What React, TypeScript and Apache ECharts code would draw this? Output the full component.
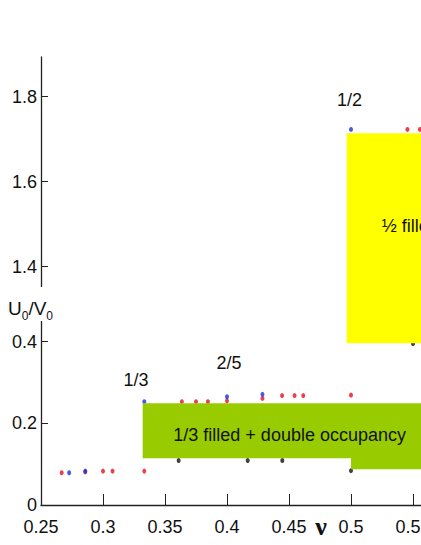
import React, { useEffect, useRef } from 'react';
import * as echarts from 'echarts';

const xTickValues = [0.25, 0.3, 0.35, 0.4, 0.45, 0.5, 0.55, 0.6];
const upperTickValues = [1.4, 1.6, 1.8];
const lowerTickValues = [0, 0.2, 0.4];

const redLower = [
  [0.2667, 0.079], [0.2857, 0.081], [0.3, 0.083], [0.3077, 0.083], [0.3333, 0.083],
  [0.3636, 0.253], [0.375, 0.253], [0.3846, 0.253], [0.4, 0.255], [0.4286, 0.261],
  [0.4444, 0.268], [0.4545, 0.268], [0.4615, 0.268], [0.5, 0.269],
];
const redUpper = [[0.5455, 1.723], [0.5556, 1.723]];
const blueLower = [[0.2727, 0.079], [0.2857, 0.083], [0.3333, 0.253], [0.4, 0.265], [0.4286, 0.271]];
const blueUpper = [[0.5, 1.723]];
const blackLower = [[0.361, 0.109], [0.4167, 0.109], [0.4446, 0.109], [0.5, 0.084], [0.55, 0.395]];

const fractionLabels = [
  { text: '1/2', grid: 0, x: 0.4988, y: 1.792 },
  { text: '1/3', grid: 1, x: 0.3266, y: 0.306 },
  { text: '2/5', grid: 1, x: 0.4016, y: 0.348 },
];

const SANS = '"Liberation Sans", Arial, sans-serif';
const RED = '#e5121f';
const BLUE = '#1c2ee0';
const BLACK = '#111111';

export default function App() {
  const ref = useRef<HTMLDivElement>(null);
  useEffect(() => {
    if (!ref.current) return;
    const chart = echarts.init(ref.current, undefined, { renderer: 'svg' });
    const axisLine = { show: true, lineStyle: { color: '#222', width: 1.3 } };
    const yLabel = { color: '#111', fontFamily: SANS, fontSize: 18, margin: 4 };
    const scatter = (data: number[][], color: string, g: number) => ({
      type: 'scatter',
      xAxisIndex: g,
      yAxisIndex: g,
      data,
      symbol: 'circle',
      symbolSize: [4, 5],
      itemStyle: { color },
      z: 3,
    });
    chart.setOption({
      animation: false,
      backgroundColor: '#ffffff',
      grid: [
        { left: 41, top: 57, width: 434, height: 243 },
        { left: 41, top: 300, width: 434, height: 205 },
      ],
      xAxis: [
        { gridIndex: 0, type: 'value', min: 0.25, max: 0.6, show: false },
        {
          gridIndex: 1, type: 'value', min: 0.25, max: 0.6, interval: 0.05,
          axisLine,
          axisTick: { show: true, inside: true, length: 11, lineStyle: { color: '#222' }, customValues: xTickValues },
          axisLabel: { color: '#111', fontFamily: SANS, fontSize: 18, margin: 13, customValues: xTickValues },
          splitLine: { show: false },
        },
      ],
      yAxis: [
        {
          gridIndex: 0, type: 'value', min: 1.3216, max: 1.8934,
          axisLine,
          axisTick: { show: true, inside: true, length: 7, lineStyle: { color: '#222' }, customValues: upperTickValues },
          axisLabel: { ...yLabel, customValues: upperTickValues },
          splitLine: { show: false },
        },
        {
          gridIndex: 1, type: 'value', min: 0, max: 0.502,
          axisLine,
          axisTick: { show: true, inside: true, length: 7, lineStyle: { color: '#222' }, customValues: lowerTickValues },
          axisLabel: { ...yLabel, customValues: lowerTickValues },
          splitLine: { show: false },
        },
      ],
      series: [
        scatter(redLower, RED, 1),
        scatter(blueLower, BLUE, 1),
        scatter(blackLower, BLACK, 1),
        scatter(redUpper, RED, 0),
        scatter(blueUpper, BLUE, 0),
      ],
    });

    const px = (g: number, x: number, y: number) =>
      chart.convertToPixel({ gridIndex: g } as any, [x, y]) as number[];

    const yTL = px(0, 0.4965, 1.714);
    const yBR = px(1, 0.6, 0.396);
    const gA = px(1, 0.332, 0.249);
    const gB = px(1, 0.6, 0.249);
    const gC = px(1, 0.6, 0.0874);
    const gD = px(1, 0.5, 0.0874);
    const gE = px(1, 0.5, 0.1144);
    const gF = px(1, 0.332, 0.1144);
    const yText = px(0, 0.5248, 1.4965);
    const gText = px(1, 0.3567, 0.1714);

    const graphics: any[] = [
      {
        type: 'rect', z: 100,
        shape: { x: yTL[0], y: yTL[1], width: yBR[0] - yTL[0], height: yBR[1] - yTL[1] },
        style: { fill: '#ffff00' },
      },
      {
        type: 'text', z: 101, x: yText[0], y: yText[1],
        style: { text: '½ filled', fill: '#111', font: `18px ${SANS}`, textAlign: 'left', textVerticalAlign: 'middle' },
      },
      {
        type: 'polygon', z: 100,
        shape: { points: [gA, gB, gC, gD, gE, gF] },
        style: { fill: '#99cc00' },
      },
      {
        type: 'text', z: 101, x: gText[0], y: gText[1],
        style: { text: '1/3 filled + double occupancy', fill: '#111', font: `18px ${SANS}`, textAlign: 'left', textVerticalAlign: 'middle' },
      },
      // broken-axis label with white backdrop
      { type: 'rect', z: 100, shape: { x: 34, y: 287, width: 14, height: 34 }, style: { fill: '#ffffff' } },
      {
        type: 'text', z: 101, x: 8, y: 299,
        style: {
          text: '{a|U}{s|0}{a|/V}{s|0}',
          fill: '#111',
          rich: {
            a: { fontSize: 19, fontFamily: SANS, lineHeight: 18, verticalAlign: 'top', fill: '#111' },
            s: { fontSize: 12, fontFamily: SANS, lineHeight: 23, verticalAlign: 'bottom', fill: '#111' },
          },
        },
      },
      {
        type: 'text', z: 101, x: 321, y: 526,
        style: { text: 'ν', fill: '#111', font: `bold 26px "Liberation Serif", "DejaVu Serif", serif`, textAlign: 'center', textVerticalAlign: 'middle' },
      },
    ];
    fractionLabels.forEach((l) => {
      const p = px(l.grid, l.x, l.y);
      graphics.push({
        type: 'text', z: 101, x: p[0], y: p[1],
        style: { text: l.text, fill: '#111', font: `18px ${SANS}`, textAlign: 'center', textVerticalAlign: 'middle' },
      });
    });
    chart.setOption({ graphic: graphics });

    return () => chart.dispose();
  }, []);
  return (
    <div
      ref={ref}
      style={{ position: 'fixed', left: 0, top: 0, width: 500, height: 545, background: '#fff' }}
    />
  );
}
